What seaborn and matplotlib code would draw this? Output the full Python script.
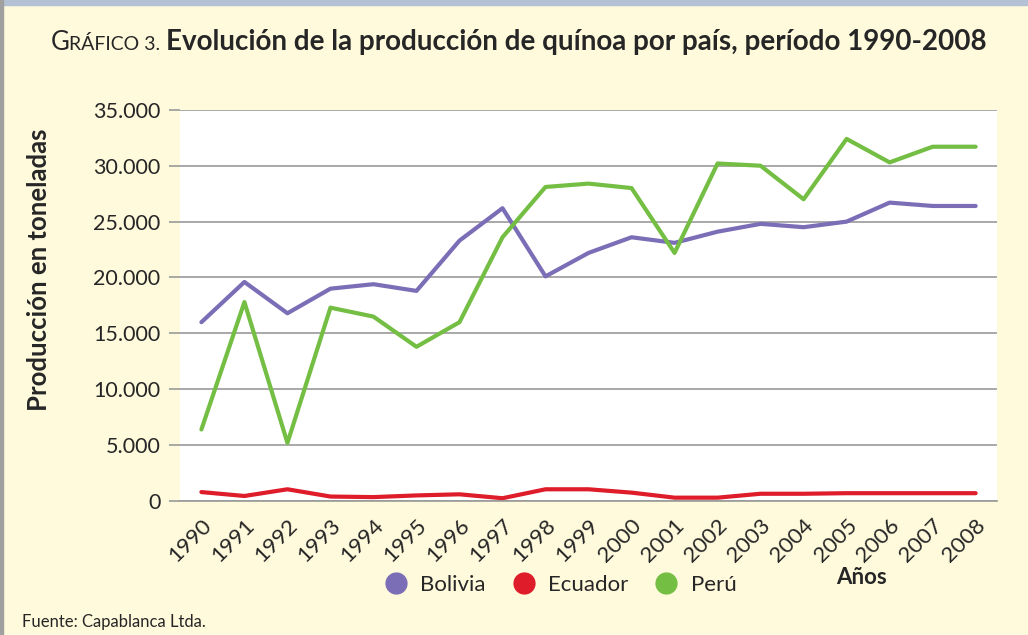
import matplotlib
matplotlib.use("Agg")
import matplotlib.pyplot as plt
from matplotlib.lines import Line2D
from matplotlib.patches import Rectangle
import pandas as pd
import seaborn as sns

years = [str(y) for y in range(1990, 2009)]
bolivia = [16000, 19600, 16800, 19000, 19400, 18800, 23300, 26200, 20100, 22200,
           23600, 23100, 24100, 24800, 24500, 25000, 26700, 26400, 26400]
ecuador = [800, 450, 1050, 400, 350, 500, 600, 250, 1050, 1050,
           750, 300, 300, 650, 650, 700, 700, 700, 700]
peru = [6400, 17800, 5200, 17300, 16500, 13800, 16000, 23600, 28100, 28400,
        28000, 22200, 30200, 30000, 27000, 32400, 30300, 31700, 31700]
countries = ["Bolivia", "Ecuador", "Perú"]
colors = {"Bolivia": "#7B6EB6", "Ecuador": "#DE1C2A", "Perú": "#74BE44"}
y_ticks = [0, 5000, 10000, 15000, 20000, 25000, 30000, 35000]
y_labels = ["0", "5.000", "10.000", "15.000", "20.000", "25.000", "30.000", "35.000"]

df = pd.DataFrame({"pos": list(range(len(years))) * 3,
                   "valor": bolivia + ecuador + peru,
                   "pais": [c for c in countries for _ in years]})

sns.set_style("white")
plt.rcParams["font.family"] = ["Lato", "DejaVu Sans"]

bg = "#FFFADC"
fig = plt.figure(figsize=(10.28, 6.35), dpi=100, facecolor=bg)
ax = fig.add_axes([0.175, 0.211, 0.795, 0.616])
ax.set_facecolor("white")

sns.lineplot(data=df, x="pos", y="valor", hue="pais", palette=colors,
             linewidth=3, legend=False, ax=ax)

ax.set_xlim(-0.5, len(years) - 0.5)
ax.set_ylim(0, 35000)
ax.set_yticks(y_ticks)
ax.set_yticklabels(y_labels, fontsize=15.5)
ax.grid(axis="y", color="#9A9A9A", linewidth=1.2)
ax.set_axisbelow(True)
for s in ["top", "right", "left"]:
    ax.spines[s].set_visible(False)
ax.spines["bottom"].set_color("#9A9A9A")
ax.spines["bottom"].set_linewidth(1.2)

ax.set_xticks(range(len(years)))
ax.set_xticklabels(years, fontsize=16, rotation=45, ha="right",
                   rotation_mode="anchor")
ax.set_xticks([i - 0.5 for i in range(len(years) + 1)], minor=True)
ax.tick_params(axis="x", which="major", length=0, pad=10)
ax.tick_params(axis="x", which="minor", length=8, color="#9A9A9A", width=1.2)
ax.tick_params(axis="y", length=8, color="#9A9A9A", width=1.2, pad=6, left=True)
ax.set_xlabel("")
ax.set_ylabel("Producción en toneladas", fontsize=18.5, fontweight="bold")
ax.yaxis.set_label_coords(-0.158, 0.59)

handles = [Line2D([], [], marker="o", linestyle="", markersize=15,
                  markerfacecolor=colors[c], markeredgecolor=colors[c]) for c in countries]
fig.legend(handles, countries, loc="center", bbox_to_anchor=(0.54, 0.079),
           ncol=3, frameon=False, fontsize=16, handletextpad=0.1,
           columnspacing=0.7)
fig.text(0.838, 0.09, "Años", fontsize=16, fontweight="bold", ha="center", va="center")
fig.text(0.021, 0.02, "Fuente: Capablanca Ltda.", fontsize=12, va="center")

# titulo con versalitas
ty = 0.922
t1 = fig.text(0.049, ty, "G", fontsize=18.5, va="baseline")
fig.canvas.draw()
r = fig.canvas.get_renderer()
bb = t1.get_window_extent(r)
t2 = fig.text(bb.x1 / fig.bbox.width, ty, "RÁFICO 3.", fontsize=14, va="baseline")
bb = t2.get_window_extent(r)
fig.text(bb.x1 / fig.bbox.width + 0.005, ty,
         "Evolución de la producción de quínoa por país, período 1990-2008",
         fontsize=20, fontweight="bold", va="baseline")

fig.patches.append(Rectangle((0, 0.992), 1, 0.008, transform=fig.transFigure,
                             color="#B4C0D4", zorder=0))
fig.patches.append(Rectangle((0, 0), 0.003, 1, transform=fig.transFigure,
                             color="#A0A0A0", zorder=0))

fig.savefig("out.png", dpi=100, facecolor=bg)
